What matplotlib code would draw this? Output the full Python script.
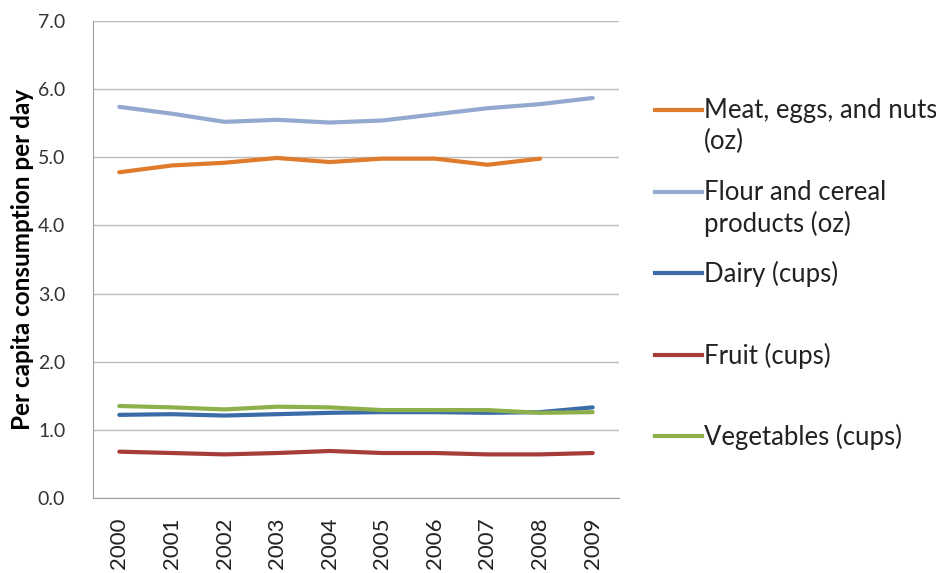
import matplotlib
matplotlib.use("Agg")
import matplotlib.pyplot as plt
from matplotlib.lines import Line2D

plt.rcParams['font.family'] = ['Lato', 'DejaVu Sans']

years = ["2000", "2001", "2002", "2003", "2004", "2005", "2006", "2007", "2008", "2009"]
meat = [4.78, 4.88, 4.92, 4.99, 4.93, 4.98, 4.98, 4.89, 4.98, None]
flour = [5.74, 5.64, 5.52, 5.55, 5.51, 5.54, 5.63, 5.72, 5.78, 5.87]
dairy = [1.22, 1.23, 1.21, 1.23, 1.25, 1.26, 1.26, 1.25, 1.26, 1.33]
fruit = [0.68, 0.66, 0.64, 0.66, 0.69, 0.66, 0.66, 0.64, 0.64, 0.66]
vegetables = [1.35, 1.33, 1.30, 1.34, 1.33, 1.29, 1.29, 1.29, 1.25, 1.26]

labels = ["Meat, eggs, and nuts\n(oz)", "Flour and cereal\nproducts (oz)",
          "Dairy (cups)", "Fruit (cups)", "Vegetables (cups)"]
colors = ["#E07B2C", "#93A9CF", "#3B6CA8", "#A63C3A", "#8DB04B"]
series = [meat, flour, dairy, fruit, vegetables]

fig = plt.figure(figsize=(9.37, 5.73), dpi=100)
ax = fig.add_axes([93 / 937, (573 - 498) / 573, 526 / 937, 477 / 573])

x = list(range(len(years)))
for vals, col in zip(series, colors):
    xs = [i for i, v in zip(x, vals) if v is not None]
    ys = [v for v in vals if v is not None]
    ax.plot(xs, ys, color=col, lw=3, solid_capstyle='round')

ax.set_xlim(-0.5, len(years) - 0.5)
ax.set_ylim(0, 7)
ax.set_yticks([0, 1, 2, 3, 4, 5, 6, 7])
ax.set_yticklabels([f"{v:.1f}" for v in range(8)], fontsize=14, color="#333333")
ax.set_xticks(x)
ax.set_xticklabels(years, rotation=90, fontsize=16, color="#222222")
ax.tick_params(axis='y', length=0, pad=20)
ax.tick_params(axis='x', length=0, pad=14)
ax.grid(axis='y', color="#BBBBBB", lw=1)
ax.set_axisbelow(True)
for s in ['top', 'right']:
    ax.spines[s].set_visible(False)
for s in ['left', 'bottom']:
    ax.spines[s].set_color("#A0A0A0")
ax.set_ylabel("Per capita consumption per day", fontsize=17.5, fontweight='bold', labelpad=3)

# legend, placed like the Excel one
for i, (lab, col) in enumerate(zip(labels, colors)):
    yl = 1 - (110 + i * 81.5) / 573
    fig.add_artist(Line2D([655 / 937, 702 / 937], [yl, yl], color=col, lw=3,
                          transform=fig.transFigure))
    fig.text(704 / 937, yl + 12 / 573, lab, fontsize=18.5, va='top', ha='left',
             color="#222222", linespacing=1.3)

fig.savefig("out.png", dpi=100)
